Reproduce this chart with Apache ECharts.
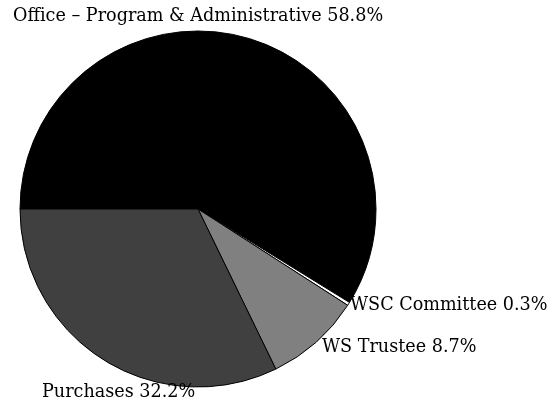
<!DOCTYPE html>
<html><head><meta charset="utf-8">
<script src="https://cdn.jsdelivr.net/npm/echarts@6/dist/echarts.min.js"></script>
<style>html,body{margin:0;padding:0;background:#fff}#c{width:557px;height:404px}</style>
</head><body><div id="c"></div>
<script>
const categories = ['Office \u2013 Program & Administrative', 'WSC Committee', 'WS Trustee', 'Purchases'];
const values = [58.8, 0.3, 8.7, 32.2];
const colors = ['#000000', '#ffffff', '#808080', '#404040'];
// label anchor positions (left edge, vertical middle)
const labelPos = [[13, 16], [350, 305], [322, 347], [42, 392]];

const chart = echarts.init(document.getElementById('c'), null, {renderer: 'canvas'});
chart.setOption({
  animation: false,
  backgroundColor: '#fff',
  series: [{
    type: 'pie',
    center: [198, 209],
    radius: 178,
    startAngle: 180,
    clockwise: true,
    data: categories.map((n, i) => ({name: n, value: values[i], itemStyle: {color: colors[i]}})),
    itemStyle: {borderColor: '#000', borderWidth: 1},
    label: {
      show: true,
      formatter: p => p.name + ' ' + p.value.toFixed(1) + '%',
      fontFamily: 'DejaVu Serif',
      fontSize: 17.6,
      color: '#000',
      overflow: 'none'
    },
    labelLine: {show: false},
    labelLayout: p => ({x: labelPos[p.dataIndex][0], y: labelPos[p.dataIndex][1], align: 'left', verticalAlign: 'middle', width: 600})
  }]
});
</script></body></html>
